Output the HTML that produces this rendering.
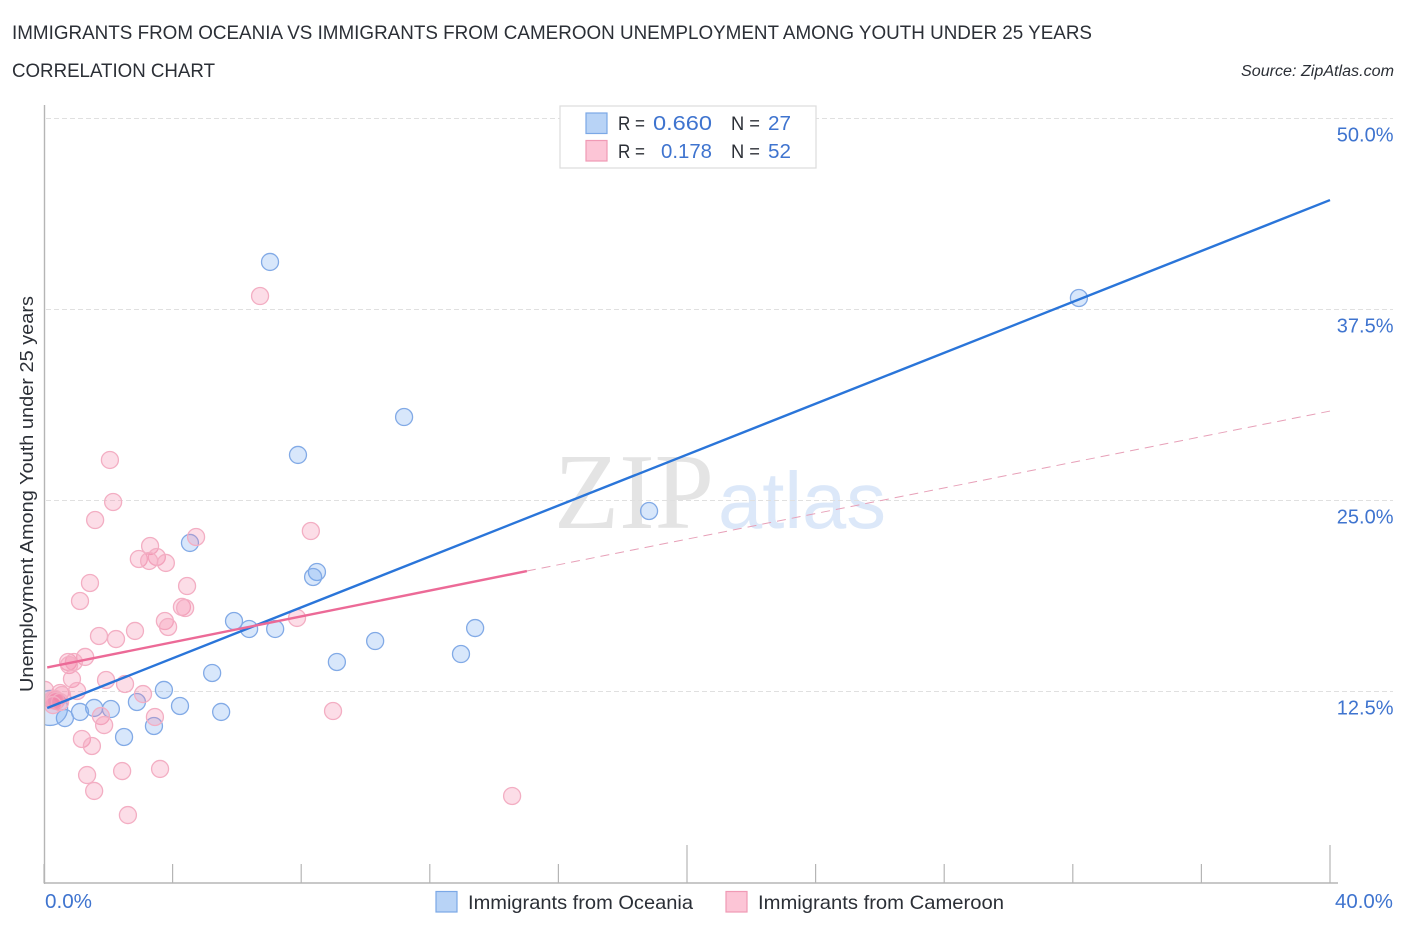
<!DOCTYPE html>
<html lang="en">
<head>
<meta charset="utf-8">
<title>Immigrants from Oceania vs Immigrants from Cameroon Unemployment Among Youth Under 25 Years Correlation Chart</title>
<style>
html,body{margin:0;padding:0;background:#fff;}
svg{display:block;font-family:"Liberation Sans",sans-serif;}
</style>
</head>
<body>
<svg id="chart" width="1406" height="930" viewBox="0 0 1406 930" xmlns="http://www.w3.org/2000/svg">
  <defs>
    <clipPath id="plot-clip"><rect x="44" y="100" width="1300" height="784"/></clipPath>
  </defs>
  <rect x="0" y="0" width="1406" height="930" fill="#ffffff"/>
  <text x="12" y="39" font-size="19.5" fill="#2b2f36" textLength="1080" lengthAdjust="spacingAndGlyphs">IMMIGRANTS FROM OCEANIA VS IMMIGRANTS FROM CAMEROON UNEMPLOYMENT AMONG YOUTH UNDER 25 YEARS</text>
  <text x="12" y="77" font-size="19.5" fill="#2b2f36" textLength="203" lengthAdjust="spacingAndGlyphs">CORRELATION CHART</text>
  <text x="1241" y="76" font-size="15.5" font-style="italic" fill="#2b2f36" textLength="153" lengthAdjust="spacingAndGlyphs">Source: ZipAtlas.com</text>

  <g>
    <text x="554" y="528" font-family="'Liberation Serif',serif" font-size="108" fill="#e4e4e4" textLength="160" lengthAdjust="spacingAndGlyphs">ZIP</text>
    <text x="718" y="528" font-size="80" fill="#dce8f9" textLength="168" lengthAdjust="spacingAndGlyphs">atlas</text>
  </g>

  <g id="grid"></g>
  <g id="ylabels"></g>
  <g id="oceania" clip-path="url(#plot-clip)"></g>
  <g id="cameroon" clip-path="url(#plot-clip)"></g>
  <g id="trends"></g>
  <g id="axes"></g>

  <text transform="translate(33,692) rotate(-90)" font-size="18.5" fill="#2b2f36" textLength="396" lengthAdjust="spacingAndGlyphs">Unemployment Among Youth under 25 years</text>
  <text x="45" y="908" font-size="20" fill="#3f74cf" textLength="47" lengthAdjust="spacingAndGlyphs">0.0%</text>
  <text x="1335" y="908" font-size="20" fill="#3f74cf" textLength="58" lengthAdjust="spacingAndGlyphs">40.0%</text>

  <g>
    <rect x="560" y="106" width="256" height="62" fill="#ffffff" stroke="#dcdcdc" stroke-width="1.2"/>
    <rect x="586" y="113" width="21" height="20.5" fill="#b8d3f6" stroke="#7ba8e6" stroke-width="1.2"/>
    <rect x="586" y="140.5" width="21" height="20.5" fill="#fcc5d6" stroke="#f09ab5" stroke-width="1.2"/>
    <text x="618" y="130" font-size="19.5" fill="#2b2f36" textLength="27" lengthAdjust="spacingAndGlyphs">R =</text>
    <text x="653" y="130" font-size="20.5" fill="#3f74cf" textLength="59" lengthAdjust="spacingAndGlyphs">0.660</text>
    <text x="731" y="130" font-size="19.5" fill="#2b2f36" textLength="29" lengthAdjust="spacingAndGlyphs">N =</text>
    <text x="768" y="130" font-size="20.5" fill="#3f74cf" textLength="23" lengthAdjust="spacingAndGlyphs">27</text>
    <text x="618" y="158" font-size="19.5" fill="#2b2f36" textLength="27" lengthAdjust="spacingAndGlyphs">R =</text>
    <text x="661" y="158" font-size="20.5" fill="#3f74cf" textLength="51" lengthAdjust="spacingAndGlyphs">0.178</text>
    <text x="731" y="158" font-size="19.5" fill="#2b2f36" textLength="29" lengthAdjust="spacingAndGlyphs">N =</text>
    <text x="768" y="158" font-size="20.5" fill="#3f74cf" textLength="23" lengthAdjust="spacingAndGlyphs">52</text>
  </g>

  <g>
    <g>
      <rect x="436" y="891.5" width="21" height="20.5" fill="#b8d3f6" stroke="#7ba8e6" stroke-width="1.2"/>
      <text x="468" y="909" font-size="19.5" fill="#2b2f36" textLength="225" lengthAdjust="spacingAndGlyphs">Immigrants from Oceania</text>
    </g>
    <g>
      <rect x="726" y="891.5" width="21" height="20.5" fill="#fcc5d6" stroke="#f09ab5" stroke-width="1.2"/>
      <text x="758" y="909" font-size="19.5" fill="#2b2f36" textLength="246" lengthAdjust="spacingAndGlyphs">Immigrants from Cameroon</text>
    </g>
  </g>
</svg>

<script>
const yTicks = [12.5, 25, 37.5, 50];
const yTickLabels = ["12.5%", "25.0%", "37.5%", "50.0%"];
const xTicks = [0, 4, 8, 12, 16, 20, 24, 28, 32, 36, 40];
const xMajorTicks = [20, 40];

const oceaniaX = [7.03, 32.19, 11.20, 7.90, 18.82, 4.54, 8.49, 8.37, 5.91, 6.38, 7.19, 13.41, 10.30, 12.97, 9.11, 5.23, 3.73, 4.23, 5.51, 2.89, 2.08, 1.56, 1.12, 0.65, 0.19, 2.49, 3.42];
const oceaniaY = [40.58, 38.22, 30.43, 27.95, 24.28, 22.19, 20.29, 19.96, 17.08, 16.56, 16.56, 16.62, 15.77, 14.92, 14.40, 13.68, 12.57, 11.52, 11.13, 11.78, 11.32, 11.39, 11.13, 10.73, 11.39, 9.49, 10.21];
const oceaniaLargePoint = 24;

const cameroonX = [6.72, 2.05, 2.15, 1.59, 4.73, 8.30, 3.30, 3.51, 2.95, 3.27, 3.79, 4.45, 1.43, 1.12, 4.29, 4.39, 7.87, 3.76, 3.86, 2.83, 2.24, 1.71, 1.28, 0.75, 0.93, 0.78, 0.87, 1.93, 2.52, 3.08, 1.03, 0.50, 0.56, 0.03, 0.25, 0.31, 0.34, 0.37, 0.50, 1.77, 1.87, 3.45, 8.99, 1.18, 1.49, 2.43, 1.34, 3.61, 1.56, 2.61, 14.56, 0.28];
const cameroonY = [38.35, 27.62, 24.87, 23.69, 22.58, 22.97, 21.99, 21.27, 21.14, 21.01, 20.88, 19.37, 19.57, 18.39, 18.00, 17.93, 17.28, 17.08, 16.69, 16.43, 15.90, 16.10, 14.73, 14.40, 14.40, 14.20, 13.29, 13.22, 12.96, 12.30, 12.50, 12.37, 12.24, 12.57, 11.91, 11.91, 11.98, 11.85, 11.78, 10.86, 10.27, 10.80, 11.19, 9.36, 8.90, 7.26, 7.00, 7.40, 5.96, 4.38, 5.63, 11.58];

const oceaniaTrendX = [0.1, 40];
const oceaniaTrendY = [11.39, 44.63];
const cameroonTrendX = [0.1, 15.02];
const cameroonTrendY = [14.04, 20.35];
const cameroonProjectionX = [15.02, 40];
const cameroonProjectionY = [20.35, 30.82];

const SVGNS = "http://www.w3.org/2000/svg";
function xScale(v) { return 44 + v * 32.15; }
function yScale(v) { return 882 - v * 15.28; }
function make(tag, parent, attrs) {
  const el = document.createElementNS(SVGNS, tag);
  for (const k in attrs) el.setAttribute(k, attrs[k]);
  parent.appendChild(el);
  return el;
}

const gridG = document.getElementById("grid");
const labelsG = document.getElementById("ylabels");
yTicks.forEach(function (t, i) {
  const line = make("line", gridG, { x1: 46, x2: 1393, y1: yScale(t) + 0.5, y2: yScale(t) + 0.5, stroke: "#e0e0e0", "stroke-width": 1, "stroke-dasharray": "5 3" });
  
  
  const label = make("text", labelsG, { x: 1393.5, y: yScale(t) + 23.5, "font-size": 20, fill: "#3f74cf", "text-anchor": "end" });
  label.textContent = yTickLabels[i];
  
  
});

const axesG = document.getElementById("axes");
const yAxisLine = make("line", axesG, { x1: 44.5, x2: 44.5, y1: 105, y2: 884, stroke: "#b5b5b5", "stroke-width": 1.4 });


const xAxisLine = make("line", axesG, { x1: 44, x2: 1338, y1: 883, y2: 883, stroke: "#b5b5b5", "stroke-width": 1.4 });


xTicks.forEach(function (t) {
  const top = xMajorTicks.indexOf(t) >= 0 ? 845 : 864;
  const tick = make("line", axesG, { x1: xScale(t), x2: xScale(t), y1: top, y2: 883, stroke: "#b5b5b5", "stroke-width": 1.2 });
  
  
});

const oceaniaG = document.getElementById("oceania");
oceaniaX.forEach(function (x, i) {
  const r = i === oceaniaLargePoint ? 17.5 : 8.5;
  const dot = make("circle", oceaniaG, { cx: xScale(x), cy: yScale(oceaniaY[i]), r: r, fill: "rgba(110,165,240,0.27)", stroke: "#82aae6", "stroke-width": 1.3 });
  
  
});

const cameroonG = document.getElementById("cameroon");
cameroonX.forEach(function (x, i) {
  const dot = make("circle", cameroonG, { cx: xScale(x), cy: yScale(cameroonY[i]), r: 8.5, fill: "rgba(245,130,165,0.27)", stroke: "#f3aec3", "stroke-width": 1.3 });
  
  
});

const trendsG = document.getElementById("trends");
const blueTrend = make("line", trendsG, { x1: xScale(oceaniaTrendX[0]), y1: yScale(oceaniaTrendY[0]), x2: xScale(oceaniaTrendX[1]), y2: yScale(oceaniaTrendY[1]), stroke: "#2a75d9", "stroke-width": 2.4 });


const pinkProjection = make("line", trendsG, { x1: xScale(cameroonProjectionX[0]), y1: yScale(cameroonProjectionY[0]), x2: xScale(cameroonProjectionX[1]), y2: yScale(cameroonProjectionY[1]), stroke: "#e7a0b8", "stroke-width": 1, "stroke-dasharray": "9 6" });


const pinkTrend = make("line", trendsG, { x1: xScale(cameroonTrendX[0]), y1: yScale(cameroonTrendY[0]), x2: xScale(cameroonTrendX[1]), y2: yScale(cameroonTrendY[1]), stroke: "#ec6a97", "stroke-width": 2.4 });


</script>
</body>
</html>
